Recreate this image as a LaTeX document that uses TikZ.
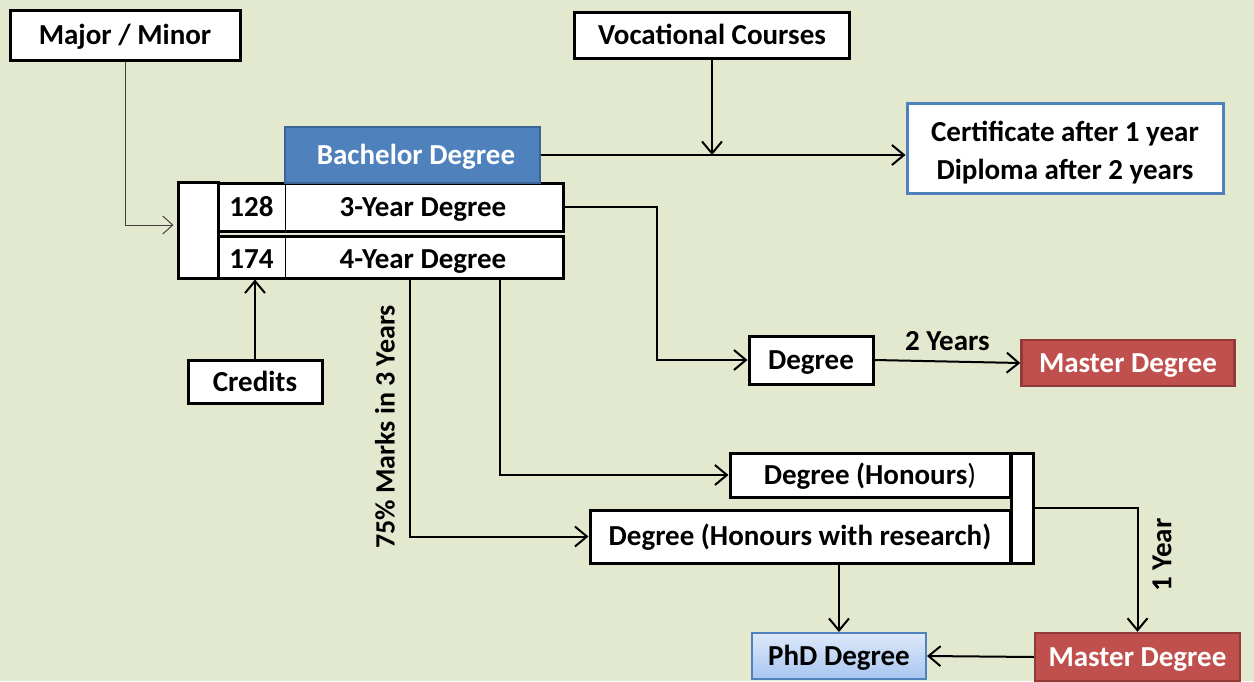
\documentclass[tikz,border=0pt]{standalone}
\usepackage{fontspec}
\setmainfont{Carlito}
\usepackage{xcolor}
\usetikzlibrary{arrows.meta,positioning,calc}

\definecolor{bgcol}{RGB}{227,233,207}
\definecolor{bachblue}{RGB}{79,129,189}
\definecolor{bachedge}{RGB}{60,100,150}
\definecolor{masterred}{RGB}{192,80,77}
\definecolor{masteredge}{RGB}{145,58,56}
\definecolor{phdtop}{RGB}{222,233,250}
\definecolor{phdbot}{RGB}{168,197,240}

\begin{document}
\begin{tikzpicture}[
  x=0.5pt, y=-0.5pt,
  every node/.style={font=\fontsize{14.5}{17.5}\selectfont\bfseries},
  frame/.style={
    draw, line width=1.5pt, fill=white,
    inner sep=0pt, align=center,
  },
  box/.style={frame, text height=9.3pt, text depth=0pt},
  bluebox/.style={box, draw=bachedge, fill=bachblue, text=white, line width=1pt},
  redbox/.style={box, draw=masteredge, fill=masterred, text=white, line width=1.2pt},
  infobox/.style={frame, draw=bachblue, line width=1.5pt},
  phdbox/.style={box, draw=bachblue, line width=1pt, top color=phdtop, bottom color=phdbot},
  celltext/.style={text height=9.3pt, text depth=0pt, inner sep=0pt},
  arrow/.style={-{Straight Barb[length=6pt,width=10pt,line width=1pt]}, line width=1pt},
  thinarrow/.style={-{Straight Barb[length=5pt,width=9pt]}, line width=0.5pt, black!75},
  sidelabel/.style={rotate=90},
]

% Background
\fill[bgcol] (0,0) rectangle (1254,681);
\useasboundingbox (0,0) rectangle (1254,681);

% Top inputs
\node[box, minimum width=115pt, minimum height=25pt] (major) at (125,35) {Major / Minor};
\node[box, minimum width=137.5pt, minimum height=23pt] (voc) at (712,35) {Vocational Courses};

% Bachelor block
\node[box, minimum width=20pt, minimum height=48pt] (col) at (198,230) {};
\node[box, minimum width=172.5pt, minimum height=24pt] (row3) at (390.5,207) {};
\node[box, minimum width=172.5pt, minimum height=21pt] (row4) at (390.5,257) {};
\node[celltext] (n128) at (251.5,207) {128};
\node[celltext] (t3) at (423,207) {3-Year Degree};
\node[celltext] (n174) at (251.5,259) {174};
\node[celltext] (t4) at (423,259) {4-Year Degree};
\draw[line width=0.5pt] (285,184) -- (285,230);
\draw[line width=0.5pt] (285,237) -- (285,277);
\node[bluebox, minimum width=127.5pt, minimum height=28pt] (bach) at (412,155) {\hspace*{4pt}Bachelor Degree};

\node[box, minimum width=67pt, minimum height=21.5pt] (credits) at (255,382) {Credits};

% Right side
\node[infobox, minimum width=158pt, minimum height=45pt] (cert) at (1065,148) {};
\node[align=center, inner sep=0pt] (certtext) at ([yshift=-2.5pt]cert.center) {%
  Certificate after 1 year\\[1.5pt]Diploma after 2 years};
\node[box, minimum width=62pt, minimum height=24pt] (deg) at (811,360) {Degree};
\node[redbox, minimum width=106.5pt, minimum height=23pt] (master1) at (1128,363) {Master Degree};

% Honours
\node[box, minimum width=140pt, minimum height=22pt] (honours) at (870,475) {Degree (Honours\textmd{)}};
\node[box, minimum width=210pt, minimum height=26.5pt] (research) at (800,536.5) {Degree (Honours with research)};
\node[box, minimum width=11pt, minimum height=55pt] (brk) at (1022.5,508) {};

% Bottom
\node[phdbox, minimum width=87pt, minimum height=23pt] (phd) at (839,656) {PhD Degree};
\node[redbox, minimum width=102.5pt, minimum height=24pt] (master2) at (1137.5,657) {Master Degree};

% Arrows
\draw[thinarrow] (major.south) |- ([xshift=-1.5pt,yshift=2.5pt]col.west);
\draw[arrow] (credits.north) -- (credits.north |- row4.south);
\draw[arrow] (bach.east) -- (bach.east -| cert.west);
\draw[arrow] (voc.south) -- (voc.south |- bach.east);
\draw[arrow] (row3.east) -- ++(92,0) |- (deg.west);
\draw[arrow] (deg.east) -- node[above=1.5pt] {2 Years} (master1.west);
\draw[arrow] ([xshift=9.75pt]row4.south) |- (research.west);
\draw[arrow] ([xshift=54.75pt]row4.south) |- (honours.west);
\draw[arrow] (brk.east) -| (master2.north);
\draw[arrow] (phd.north |- research.south) -- (phd.north);
\draw[arrow] (master2.west) -- (phd.east);

% Side labels
\node[sidelabel, font=\fontsize{14}{17}\selectfont\bfseries] (marks) at (385,427) {75\% Marks in 3 Years};
\node[sidelabel] (oneyear) at (1162,555) {1 Year};

\end{tikzpicture}
\end{document}
